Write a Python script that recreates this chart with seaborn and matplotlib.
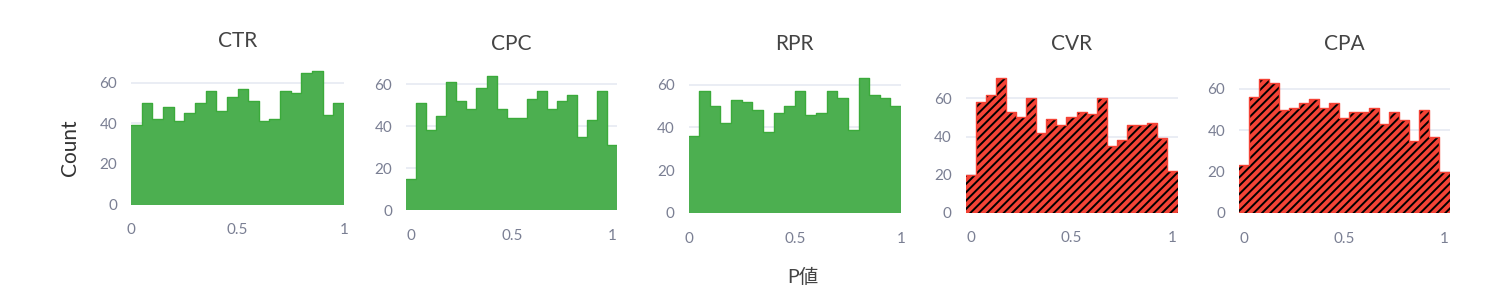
import numpy as np
import pandas as pd
import matplotlib
matplotlib.use("Agg")
import matplotlib.pyplot as plt
import seaborn as sns

# ---- data (counts per bin) ----
metrics = ["CTR", "CPC", "RPR", "CVR", "CPA"]
ctr_counts = [39, 50, 42, 48, 41, 45, 50, 56, 46, 53, 57, 51, 41, 42, 56, 55, 65, 66, 44, 50]
cpc_counts = [15, 51, 38, 45, 61, 52, 48, 58, 64, 48, 44, 44, 53, 57, 48, 52, 55, 35, 43, 57, 31]
rpr_counts = [36, 57, 50, 42, 53, 52, 48, 38, 47, 50, 57, 46, 47, 57, 54, 39, 63, 55, 54, 50]
cvr_counts = [20, 58, 62, 71, 53, 50, 60, 42, 49, 46, 50, 53, 52, 60, 35, 38, 46, 46, 47, 39, 22]
cpa_counts = [23, 56, 65, 63, 50, 51, 53, 55, 51, 53, 46, 49, 49, 51, 43, 49, 45, 35, 50, 37, 20]
bins_a = np.linspace(0.0, 1.0, 21)        # 20 bins of 0.05 from 0
bins_b = np.linspace(-0.025, 1.025, 22)   # 21 bins of 0.05 centred on multiples of 0.05
xtick_vals = [0, 0.5, 1]
xtick_labels = ["0", "0.5", "1"]
ytick_vals = [0, 20, 40, 60]
x_label = "P値"
y_label = "Count"

counts = [ctr_counts, cpc_counts, rpr_counts, cvr_counts, cpa_counts]
bins = [bins_a, bins_b, bins_a, bins_b, bins_b]
significant = [False, False, False, True, True]

# ---- layout (pixels) ----
W, H = 1500, 307
# left px, right px, baseline px, px-per-unit, ylim top, title y px
layout = [
    (131.0, 344.0, 204.5, 2.028, 69, 41),
    (406.0, 617.5, 210.0, 2.095, 67, 44),
    (688.5, 901.0, 213.0, 2.138, 66, 44),
    (965.5, 1177.5, 212.5, 1.900, 74, 44),
    (1239.0, 1449.5, 213.0, 2.067, 68, 44),
]

sns.set_theme(style="white")
plt.rcParams["font.family"] = ["Lato", "Noto Sans CJK JP", "DejaVu Sans"]
plt.rcParams["hatch.linewidth"] = 1.4

GREEN = "#4CAF50"
GREEN_EDGE = "#3BAA3B"
RED = "#F44336"
TICK_COLOR = "#7A7F93"
GRID_COLOR = "#E6EAF2"

fig = plt.figure(figsize=(W / 100, H / 100), dpi=100)

for i, name in enumerate(metrics):
    left, right, y0, s, top, ty = layout[i]
    b = [float(v) for v in bins[i]]
    centers = [(b[k] + b[k + 1]) / 2 for k in range(len(b) - 1)]
    df = pd.DataFrame({"p": centers, "n": counts[i]})
    ax = fig.add_axes([left / W, (H - y0) / H, (right - left) / W, top * s / H])
    if significant[i]:
        sns.histplot(data=df, x="p", weights="n", bins=b, ax=ax,
                     element="bars", facecolor=RED, edgecolor="black",
                     hatch="////", linewidth=0, alpha=1)
        sns.histplot(data=df, x="p", weights="n", bins=b, ax=ax,
                     element="step", fill=False, color=RED, linewidth=1.0)
    else:
        sns.histplot(data=df, x="p", weights="n", bins=b, ax=ax,
                     element="bars", facecolor=GREEN, edgecolor=GREEN,
                     linewidth=0, alpha=1)
        sns.histplot(data=df, x="p", weights="n", bins=b, ax=ax,
                     element="step", fill=False, color=GREEN_EDGE, linewidth=1.0)
    ax.set_xlim(b[0], b[-1])
    ax.set_ylim(0, top)
    ax.set_xticks(xtick_vals)
    ax.set_xticklabels(xtick_labels)
    ax.set_yticks(ytick_vals)
    ax.tick_params(axis="both", length=0, labelsize=11, labelcolor=TICK_COLOR)
    ax.tick_params(axis="x", pad=13.5)
    ax.tick_params(axis="y", pad=10)
    ax.yaxis.grid(True, color=GRID_COLOR, linewidth=1.2)
    ax.xaxis.grid(False)
    ax.set_axisbelow(True)
    for sp in ax.spines.values():
        sp.set_visible(False)
    ax.set_xlabel("")
    ax.set_ylabel("")
    fig.text((left + right) / 2 / W, 1 - ty / H, name, ha="center", va="center",
             fontsize=15, color="#444444")

fig.text(70 / W, 1 - 148 / H, y_label, rotation=90, ha="center", va="center",
         fontsize=15, color="#333333")
fig.text(803 / W, 1 - 277 / H, x_label, ha="center", va="center",
         fontsize=14, color="#444444",
         family=["Lato", "Noto Sans CJK JP", "DejaVu Sans"])

fig.savefig("out.png", dpi=100)
